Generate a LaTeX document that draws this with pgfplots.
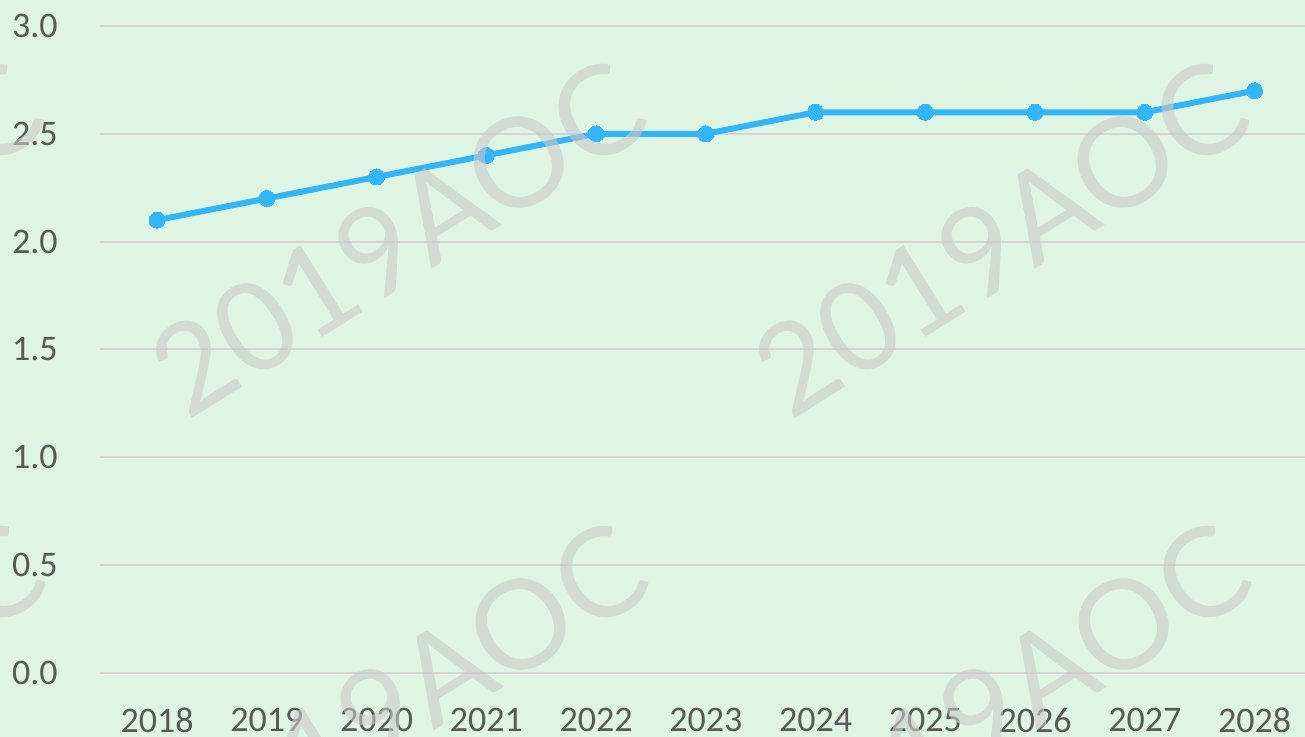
\documentclass[border=0pt]{standalone}
\usepackage{fontspec}
\setmainfont{Carlito}
\newfontfamily\wmfont{Lato}
\usepackage{pgfplots}
\pgfplotsset{compat=1.18}
\definecolor{bg}{HTML}{DEF5E3}
\definecolor{gridc}{HTML}{D9D3D9}
\definecolor{linec}{HTML}{33B5FA}
\definecolor{txt}{HTML}{595959}
\definecolor{wm}{HTML}{CACACA}
\begin{document}
\begin{tikzpicture}[x=1pt,y=1pt]
\fill[bg] (0,0) rectangle (652.5,368.5);
\begin{axis}[
  at={(50pt,32pt)}, anchor=south west,
  scale only axis, width=602.5pt, height=323.5pt,
  xmin=2017.48, xmax=2028.46, ymin=0, ymax=3,
  axis line style={draw=none},
  tick style={draw=none},
  xtick={2018,2019,2020,2021,2022,2023,2024,2025,2026,2027,2028},
  xticklabels={2018,2019,2020,2021,2022,2023,2024,2025,2026,2027,2028},
  ytick={0,0.5,1,1.5,2,2.5,3},
  yticklabels={0.0,0.5,1.0,1.5,2.0,2.5,3.0},
  ymajorgrids,
  grid style={gridc, line width=1pt},
  ticklabel style={font=\fontsize{18}{21}\selectfont, text=txt, inner sep=0pt},
  xticklabel style={anchor=north, yshift=-17.5pt},
  yticklabel style={anchor=east, xshift=-21pt},
]
\addplot[linec, line width=3pt, mark=*, mark size=4pt,
  mark options={fill=linec, draw=linec, line width=0pt}]
  coordinates {(2018,2.1) (2019,2.2) (2020,2.3) (2021,2.4) (2022,2.5) (2023,2.5)
               (2024,2.6) (2025,2.6) (2026,2.6) (2027,2.6) (2028,2.7)};
\end{axis}
\foreach \wx/\wy in {199/249.5, 500.5/249.5, 200/18.5, 501.5/18.5, -102.5/249.5, -101.5/18.5}
  \node[rotate=32, text=wm, opacity=0.6, font=\wmfont\fontsize{62}{62}\selectfont] at (\wx,\wy) {2019AOC};
\pgfresetboundingbox
\path[use as bounding box] (0,0) rectangle (652.5,368.5);
\end{tikzpicture}
\end{document}
